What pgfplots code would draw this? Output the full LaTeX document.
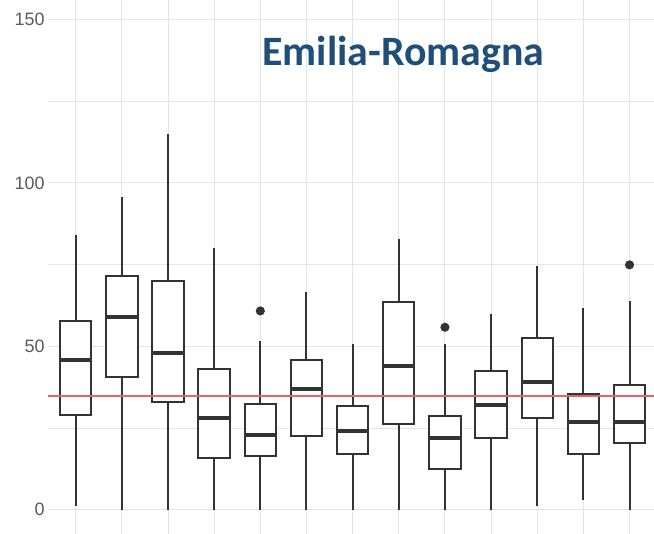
\documentclass[border=0pt]{standalone}
\usepackage{pgfplots}
\pgfplotsset{compat=1.18}
\usepgfplotslibrary{statistics}
\usepackage{fontspec}
\setmainfont{Liberation Sans}
\newfontfamily\titlefont{Carlito}
\definecolor{boxc}{RGB}{51,51,51}
\definecolor{gridc}{RGB}{228,228,228}
\definecolor{tickc}{RGB}{90,90,90}
\definecolor{titlec}{RGB}{31,78,121}
\definecolor{refred}{RGB}{228,100,104}
\newcommand{\bx}[7]{\addplot[boxst, boxplot prepared={draw position=#1, lower whisker=#2, lower quartile=#3, median=#4, upper quartile=#5, upper whisker=#6}] coordinates {#7};}
\begin{document}
\begin{tikzpicture}
\begin{axis}[
  scale only axis, width=606bp, height=534bp,
  xmin=0.4, xmax=13.53, ymin=-7.5, ymax=156,
  xtick={1,...,13}, xticklabel=\empty,
  ytick={0,50,100,150}, minor ytick={25,75,125},
  grid=both,
  major grid style={color=gridc, line width=1bp},
  minor grid style={color=gridc, line width=0.7bp},
  axis line style={draw=none},
  major tick length=0, minor tick length=0,
  yticklabel style={font=\fontsize{18}{18}\selectfont, text=tickc},
  /pgf/number format/assume math mode=true,
  boxplot/draw direction=y,
  boxplot/box extend=0.68,
  boxplot/whisker extend=0,
  boxst/.style={draw=boxc, fill=white, line width=2bp, solid,
     mark=*, mark size=3.5bp, mark options={fill=boxc, draw=boxc},
     boxplot/every median/.style={line width=4bp}},
]
\bx{1}{1}{29}{45.9}{57.7}{84}{}
\bx{2}{0}{40.5}{58.9}{71.5}{95.7}{}
\bx{3}{0}{32.8}{48}{69.9}{114.9}{}
\bx{4}{0}{15.8}{28}{43}{80}{}
\bx{5}{0}{16.5}{22.7}{32.2}{51.7}{(0,60.8)}
\bx{6}{0}{22.4}{36.9}{45.8}{66.7}{}
\bx{7}{0}{17.1}{23.9}{31.8}{50.7}{}
\bx{8}{0}{26.2}{44}{63.5}{82.8}{}
\bx{9}{0}{12.4}{21.9}{28.5}{50.7}{(0,55.8)}
\bx{10}{0}{21.9}{31.9}{42.5}{59.9}{}
\bx{11}{1}{28}{38.9}{52.5}{74.6}{}
\bx{12}{3}{17}{26.8}{35.3}{61.6}{}
\bx{13}{0}{20.4}{26.8}{38.2}{63.7}{(0,74.9)}
\addplot[refred, line width=2bp] coordinates {(0.4,34.6) (13.53,34.6)};
\node[anchor=base, font=\titlefont\bfseries\fontsize{42}{42}\selectfont, text=titlec, inner sep=0pt] at (axis cs:8.1,136) {Emilia-Romagna};
\end{axis}
\pgfresetboundingbox
\path ([xshift=-48bp]current axis.south west) rectangle (current axis.north east);
\end{tikzpicture}
\end{document}
